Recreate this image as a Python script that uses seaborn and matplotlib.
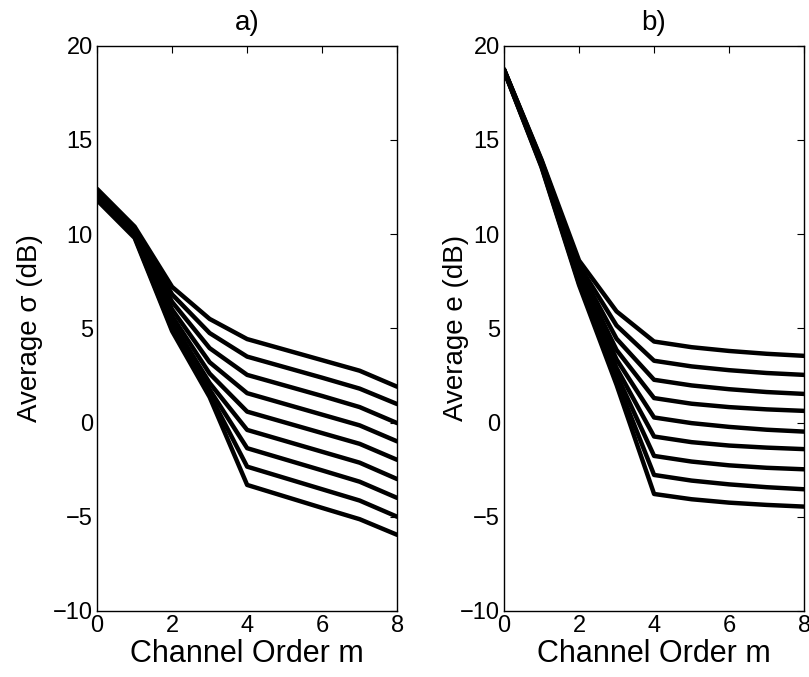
import numpy as np
import pandas as pd
import seaborn as sns
import matplotlib
matplotlib.use("Agg")
import matplotlib.pyplot as plt

# ---- data ----
channel_order = [0, 1, 2, 3, 4, 5, 6, 7, 8]

sigma_1 = [12.40, 10.40, 7.20, 5.50, 4.43, 3.87, 3.31, 2.75, 1.90]
sigma_2 = [12.32, 10.32, 6.80, 4.75, 3.50, 2.94, 2.38, 1.80, 0.98]
sigma_3 = [12.25, 10.25, 6.40, 3.95, 2.53, 1.97, 1.41, 0.82, -0.03]
sigma_4 = [12.17, 10.17, 6.00, 3.20, 1.56, 0.99, 0.42, -0.15, -1.00]
sigma_5 = [12.10, 10.10, 5.65, 2.60, 0.58, 0.01, -0.56, -1.13, -1.98]
sigma_6 = [12.02, 10.02, 5.35, 2.10, -0.39, -0.97, -1.55, -2.13, -3.00]
sigma_7 = [11.95, 9.95, 5.10, 1.75, -1.36, -1.95, -2.54, -3.14, -4.00]
sigma_8 = [11.87, 9.87, 4.95, 1.50, -2.34, -2.94, -3.54, -4.14, -5.00]
sigma_9 = [11.80, 9.80, 4.85, 1.35, -3.31, -3.92, -4.53, -5.13, -5.96]

e_1 = [18.75, 13.95, 8.60, 5.90, 4.30, 4.00, 3.80, 3.65, 3.54]
e_2 = [18.74, 13.90, 8.35, 5.15, 3.28, 2.98, 2.78, 2.63, 2.53]
e_3 = [18.73, 13.85, 8.15, 4.45, 2.27, 1.97, 1.77, 1.62, 1.52]
e_4 = [18.72, 13.80, 7.95, 3.85, 1.30, 1.00, 0.82, 0.70, 0.62]
e_5 = [18.71, 13.75, 7.80, 3.35, 0.27, -0.03, -0.23, -0.38, -0.48]
e_6 = [18.70, 13.70, 7.65, 2.90, -0.74, -1.04, -1.22, -1.33, -1.41]
e_7 = [18.69, 13.65, 7.50, 2.55, -1.77, -2.07, -2.27, -2.40, -2.48]
e_8 = [18.68, 13.60, 7.40, 2.25, -2.78, -3.08, -3.28, -3.43, -3.54]
e_9 = [18.67, 13.55, 7.30, 2.00, -3.79, -4.07, -4.25, -4.37, -4.46]

sigma_curves = [sigma_1, sigma_2, sigma_3, sigma_4, sigma_5, sigma_6, sigma_7, sigma_8, sigma_9]
e_curves = [e_1, e_2, e_3, e_4, e_5, e_6, e_7, e_8, e_9]

panel_titles = ["a)", "b)"]
y_labels = ["Average \u03c3 (dB)", "Average e (dB)"]
x_label = "Channel Order m"
x_ticks = [0, 2, 4, 6, 8]
y_ticks = [-10, -5, 0, 5, 10, 15, 20]


def to_long(curves):
    rows = []
    for k, c in enumerate(curves):
        for m, v in zip(channel_order, c):
            rows.append({"m": m, "value": v, "curve": k})
    return pd.DataFrame(rows)


sns.set_style("white")
plt.rcParams["font.family"] = ["Liberation Sans", "DejaVu Sans"]
plt.rcParams["text.color"] = "black"
plt.rcParams["axes.labelcolor"] = "black"

fig = plt.figure(figsize=(8.09, 6.77), dpi=100)
ax_a = fig.add_axes([0.120, 0.0975, 0.371, 0.835])
ax_b = fig.add_axes([0.623, 0.0975, 0.371, 0.835])

label_x = [-0.18, -0.115]

for ax, curves, title, ylab, lx in zip([ax_a, ax_b], [sigma_curves, e_curves],
                                       panel_titles, y_labels, label_x):
    df = to_long(curves)
    sns.lineplot(data=df, x="m", y="value", units="curve", estimator=None,
                 color="black", linewidth=3.2, ax=ax, legend=False)
    ax.set_xlim(0, 8)
    ax.set_ylim(-10, 20)
    ax.set_xticks(x_ticks)
    ax.set_yticks(y_ticks)
    ax.set_xticklabels([str(t) for t in x_ticks])
    ax.set_yticklabels([str(t).replace("-", "\u2212") for t in y_ticks])
    ax.tick_params(direction="in", length=5, width=0.8, top=True, right=True,
                   labelsize=17, pad=3, colors="black")
    for s in ax.spines.values():
        s.set_visible(True)
        s.set_color("black")
        s.set_linewidth(1.0)
    ax.set_xlabel(x_label, fontsize=22, labelpad=1, color="black")
    ax.set_ylabel(ylab, fontsize=20, color="black")
    ax.yaxis.set_label_coords(lx, 0.5)
    ax.set_title(title, fontsize=20, pad=11, color="black")
    ax.grid(False)

fig.savefig("out.png", dpi=100, facecolor="white")
